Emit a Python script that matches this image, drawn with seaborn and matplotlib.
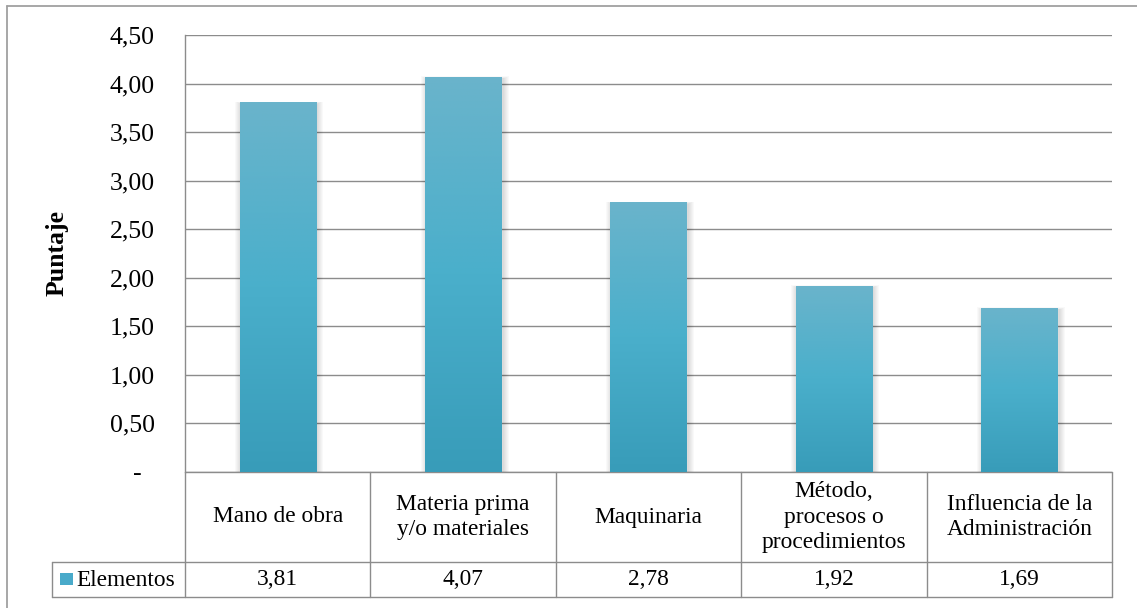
import numpy as np
import pandas as pd
import matplotlib
matplotlib.use("Agg")
import matplotlib.pyplot as plt
import matplotlib.transforms as mtransforms
from matplotlib.colors import LinearSegmentedColormap
from matplotlib.patches import Rectangle
from matplotlib.lines import Line2D
import seaborn as sns

# ---- data -------------------------------------------------------------
categories = [
    "Mano de obra",
    "Materia prima\ny/o materiales",
    "Maquinaria",
    "Método,\nprocesos o\nprocedimientos",
    "Influencia de la\nAdministración",
]
values = [3.81, 4.07, 2.78, 1.92, 1.69]
series_name = "Elementos"
y_ticks = [0.0, 0.5, 1.0, 1.5, 2.0, 2.5, 3.0, 3.5, 4.0, 4.5]
y_axis_label = "Puntaje"


def fmt_es(v):
    """Spanish number format with comma decimals; zero as a dash."""
    if v == 0:
        return "-  "
    return f"{v:.2f}".replace(".", ",")


# ---- style ------------------------------------------------------------
sns.set_theme(style="white")
plt.rcParams["font.family"] = ["Liberation Serif", "DejaVu Serif"]

W, H, DPI = 1137, 608, 100
fig = plt.figure(figsize=(W / DPI, H / DPI), dpi=DPI)
fig.patch.set_facecolor("white")

# plot area in pixels
PL, PR, PT, PB = 185, 1112, 35, 472
ax = fig.add_axes([PL / W, 1 - PB / H, (PR - PL) / W, (PB - PT) / H])

GRID = "#8c8c8c"
TICK_FS = 18.5
TABLE_FS = 16.8

df = pd.DataFrame({"categoria": categories, "puntaje": values})
sns.barplot(data=df, x="categoria", y="puntaje", color="#4AAFCB",
            saturation=1, width=0.41, ax=ax, zorder=3)

# vertical gradient inside each bar, light on top, darker at the base
grad_cmap = LinearSegmentedColormap.from_list(
    "bar_grad", ["#6AB4CB", "#4AAFCB", "#389CB9"])
grad = np.linspace(0, 1, 256).reshape(-1, 1)
px_x = 1.0 / ((PR - PL) / 5.0)      # one pixel in x data units
px_y = 4.5 / (PB - PT)              # one pixel in y data units

for patch in list(ax.patches):
    x0 = patch.get_x()
    w = patch.get_width()
    h = patch.get_height()
    # soft drop shadow, mostly on the sides
    for k in range(1, 7):
        sh = Rectangle((x0 - k * px_x + 1.5 * px_x, 0), w + 2 * k * px_x,
                       h + 0.4 * k * px_y - 2.0 * px_y,
                       facecolor="black", edgecolor="none",
                       alpha=0.025, zorder=2)
        ax.add_patch(sh)
    im = ax.imshow(grad, cmap=grad_cmap, extent=(x0, x0 + w, 0, h),
                   origin="upper", aspect="auto", zorder=3.5,
                   interpolation="bilinear")
    patch.set_facecolor("none")
    patch.set_edgecolor("none")
    im.set_clip_path(patch)

ax.set_xlim(-0.5, 4.5)
ax.set_ylim(0, 4.5)

# axes styling
ax.set_yticks(y_ticks)
ax.set_yticklabels([fmt_es(v) for v in y_ticks])
ax.tick_params(axis="y", length=0, pad=21.6, labelsize=TICK_FS,
               labelcolor="black")
ax.set_xticks([])
ax.set_xlabel("")
ax.yaxis.grid(True, color=GRID, linewidth=1.0)
ax.set_axisbelow(True)
for side in ["top", "right", "bottom"]:
    ax.spines[side].set_visible(False)
ax.spines["left"].set_color(GRID)
ax.spines["left"].set_linewidth(1.0)

ax.set_ylabel(y_axis_label, fontsize=TICK_FS, fontweight="bold",
              color="black")
ax.yaxis.set_label_coords((57 - PL) / (PR - PL), 0.5)
ax.yaxis.label.set_verticalalignment("center")

# ---- data table below the plot ----------------------------------------
trans = mtransforms.blended_transform_factory(ax.transData, ax.transAxes)
ah = PB - PT
r0 = 0.0
r1 = -(562 - PB) / ah
r2 = -(597 - PB) / ah
x_leg = -0.5 - (PL - 52) * px_x
x_right = 4.5

line_kw = dict(color=GRID, linewidth=1.0, transform=trans, clip_on=False)
ax.add_line(Line2D([-0.5, x_right], [r0, r0], **line_kw))
ax.add_line(Line2D([x_leg, x_right], [r1, r1], **line_kw))
ax.add_line(Line2D([x_leg, x_right], [r2, r2], **line_kw))
for i in range(len(categories) + 1):
    xb = i - 0.5
    ax.add_line(Line2D([xb, xb], [r0, r2], **line_kw))
ax.add_line(Line2D([x_leg, x_leg], [r1, r2], **line_kw))

for i, (cat, val) in enumerate(zip(categories, values)):
    ax.text(i, (r0 + r1) / 2, cat, transform=trans, ha="center",
            va="center", fontsize=TABLE_FS, linespacing=1.3,
            color="black", clip_on=False)
    ax.text(i, (r1 + r2) / 2, fmt_es(val), transform=trans, ha="center",
            va="center", fontsize=TABLE_FS, color="black", clip_on=False)

# legend key inside the table
key = Rectangle((60 / W, 1 - 585 / H), 12.5 / W, 12.5 / H,
                transform=fig.transFigure, facecolor="#49AACA",
                edgecolor="none")
fig.add_artist(key)
fig.text(76 / W, 1 - 580 / H, series_name, ha="left", va="center",
         fontsize=TABLE_FS, color="black")

# chart frame
frame_kw = dict(color="#a0a0a0", linewidth=1.3, transform=fig.transFigure)
fig.add_artist(Line2D([6.5 / W, 6.5 / W], [0, 1 - 5.5 / H], **frame_kw))
fig.add_artist(Line2D([6.5 / W, 1.0], [1 - 5.5 / H, 1 - 5.5 / H], **frame_kw))

fig.savefig("out.png", dpi=DPI, facecolor="white")
